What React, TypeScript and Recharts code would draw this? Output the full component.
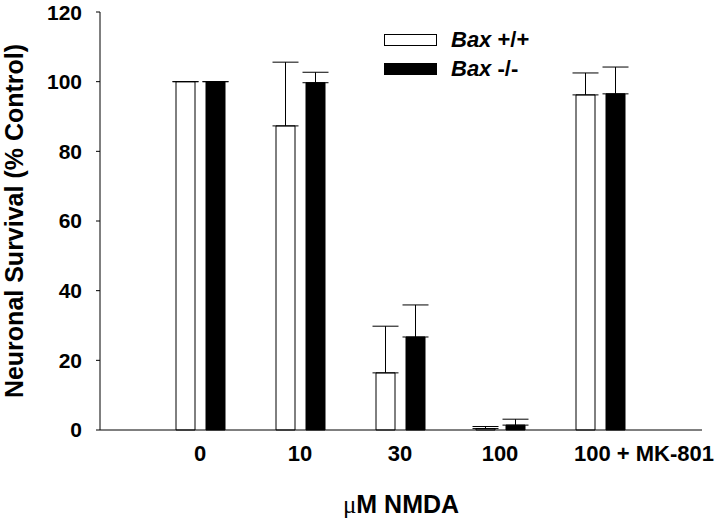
import { BarChart, Bar, XAxis, YAxis, ErrorBar, Label } from 'recharts';

const groups = ['0', '10', '30', '100', '100 + MK-801'];
const baxWT = [100, 87.3, 16.4, 0.4, 96.2];
const baxWTErr = [0, 18.3, 13.4, 0.6, 6.3];
const baxKO = [100, 99.7, 26.7, 1.4, 96.5];
const baxKOErr = [0, 3.0, 9.2, 1.7, 7.7];
const yTicks = [0, 20, 40, 60, 80, 100, 120];

const data = groups.map((g, i) => ({
  group: g,
  wt: baxWT[i],
  wtErr: [0, baxWTErr[i]],
  ko: baxKO[i],
  koErr: [0, baxKOErr[i]],
}));

const FONT = '"Liberation Sans", Arial, sans-serif';

function XTick({ x, y, payload, index }: any) {
  // the last label sits right of its bars in the original
  const dx = index === groups.length - 1 ? 44 : 0;
  return (
    <text x={x + dx} y={y} dy="0.71em" textAnchor="middle" fontFamily={FONT} fontWeight="bold" fontSize={22} fill="#000">
      {payload.value}
    </text>
  );
}

export default function App() {
  return (
    <div style={{ position: 'absolute', left: 0, top: 0, width: 720, height: 521, background: '#fff' }}>
      <BarChart
        width={720}
        height={521}
        data={data}
        margin={{ top: 12, right: 18, bottom: 0, left: 0 }}
        barSize={19}
        barGap={11}
      >
        <XAxis
          dataKey="group"
          padding={{ left: 50, right: 52 }}
          height={91}
          tickSize={0}
          tickMargin={15}
          tick={<XTick />}
          axisLine={{ stroke: '#000' }}
          interval={0}
        >
          <Label
            content={() => (
              <text x={401} y={504} textAnchor="middle" dominantBaseline="central" fontFamily={FONT} fontWeight="bold" fontSize={25} fill="#000">
                <tspan fontFamily='"Liberation Serif", "Times New Roman", serif' fontWeight="normal">μ</tspan>M NMDA
              </text>
            )}
          />
        </XAxis>
        <XAxis xAxisId="top" dataKey="group" orientation="top" height={0} tick={false} tickLine={false} axisLine={{ stroke: '#000' }} />
        <YAxis
          domain={[0, 120]}
          ticks={yTicks}
          width={100}
          tickSize={4}
          tickMargin={14}
          tickLine={{ stroke: '#000' }}
          axisLine={{ stroke: '#000' }}
          tick={{ fontFamily: FONT, fontWeight: 'bold', fontSize: 21, fill: '#000' }}
        >
          <Label
            content={() => (
              <text x={14} y={221} transform="rotate(-90 14 221)" textAnchor="middle" dominantBaseline="central" fontFamily={FONT} fontWeight="bold" fontSize={25} fill="#000">
                Neuronal Survival (% Control)
              </text>
            )}
          />
        </YAxis>
        <YAxis yAxisId="right" orientation="right" domain={[0, 120]} width={0} tick={false} tickLine={false} axisLine={{ stroke: '#000' }} />
        <Bar dataKey="wt" fill="#fff" stroke="#000" strokeWidth={1} isAnimationActive={false}>
          <ErrorBar dataKey="wtErr" direction="y" width={13} stroke="#000" strokeWidth={1} isAnimationActive={false} />
        </Bar>
        <Bar dataKey="ko" fill="#000" stroke="#000" strokeWidth={1} isAnimationActive={false}>
          <ErrorBar dataKey="koErr" direction="y" width={13} stroke="#000" strokeWidth={1} isAnimationActive={false} />
        </Bar>
      </BarChart>

      <div style={{ position: 'absolute', left: 384, top: 25, fontFamily: FONT, fontWeight: 'bold', fontSize: 22, lineHeight: '29px', color: '#000' }}>
        <div style={{ display: 'flex', alignItems: 'center' }}>
          <span style={{ display: 'inline-block', width: 51, height: 10, border: '1px solid #000', background: '#fff', marginRight: 14 }} />
          <span><i>Bax</i> +/+</span>
        </div>
        <div style={{ display: 'flex', alignItems: 'center' }}>
          <span style={{ display: 'inline-block', width: 51, height: 10, border: '1px solid #000', background: '#000', marginRight: 14 }} />
          <span><i>Bax</i> -/-</span>
        </div>
      </div>
    </div>
  );
}
